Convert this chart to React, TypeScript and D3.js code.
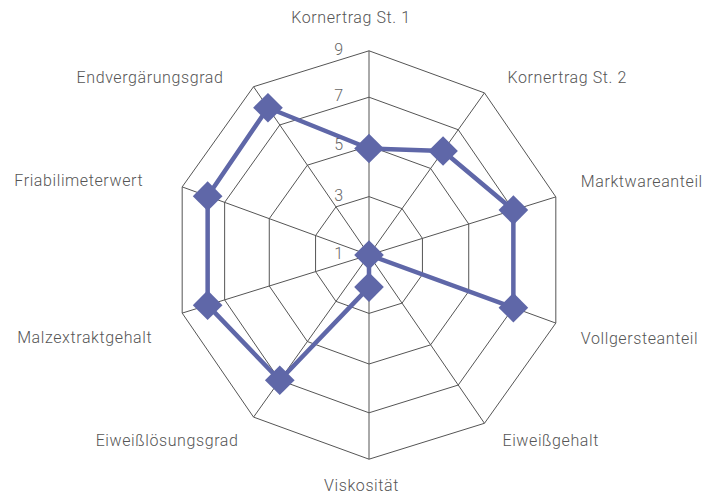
import React from 'react'
import { line, curveLinearClosed, scaleLinear, symbol, symbolSquare } from 'd3'

// axes clockwise from the top
const axes = [
  'Kornertrag St. 1',
  'Kornertrag St. 2',
  'Marktwareanteil',
  'Vollgersteanteil',
  'Eiweißgehalt',
  'Viskosität',
  'Eiweißlösungsgrad',
  'Malzextraktgehalt',
  'Friabilimeterwert',
  'Endvergärungsgrad',
]
const values = [4.9, 5.9, 7.0, 7.0, 1.0, 2.1, 7.0, 7.8, 7.8, 7.9]
const ticks = [1, 3, 5, 7, 9]

// label placement relative to the outer vertex of each axis: [anchor, dx, dy]
const labelPlace: [string, number, number][] = [
  ['middle', -18, -27.5],
  ['start', 23, -10],
  ['start', 25, -9.5],
  ['start', 25, 21],
  ['start', 18, 22.6],
  ['middle', -7.5, 31.7],
  ['end', -15, 28.8],
  ['end', -30, 30],
  ['end', -39, -1],
  ['end', -30, -3.6],
]

const W = 713, H = 497
const cx = 369, cy = 255
const sx = 0.962      // the plot is a little narrower than tall
const shear = 0.0268  // and slightly skewed

const App = () => {
  const n = axes.length
  const rScale = scaleLinear().domain(ticks).range([0, 58.4, 109, 157.8, 204.2])
  const maxR = rScale(ticks[ticks.length - 1])

  const project = (i: number, r: number): [number, number] => {
    const a = (i * 2 * Math.PI) / n
    const x = cx + sx * r * Math.sin(a)
    const y = cy - r * Math.cos(a) + shear * (x - cx)
    return [x, y]
  }

  const ring = line<number>()
    .x(d => d[0])
    .y(d => d[1])
    .curve(curveLinearClosed)

  const gridRings = ticks.slice(1).map(t => ring(axes.map((_, i) => project(i, rScale(t))) as any))
  const dataPts = values.map((v, i) => project(i, rScale(v)))
  const dataPath = ring(dataPts as any)
  const diamond = symbol(symbolSquare, 440)()

  const font = 'Roboto, "Helvetica Neue", Arial, sans-serif'

  return (
    <svg width={W} height={H} style={{ position: 'absolute', left: 0, top: 0 }}>
      <rect width={W} height={H} fill='#fff' />
      <g fill='none' stroke='#555' strokeWidth={1}>
        {gridRings.map((d, i) => <path key={i} d={d || ''} />)}
        {axes.map((_, i) => {
          const [x, y] = project(i, maxR)
          return <line key={i} x1={cx} y1={cy} x2={x} y2={y} />
        })}
      </g>
      <g fontFamily={font} fontWeight={300} fontSize={16} fill='#666' textAnchor='end'>
        {ticks.map(t => {
          const [x, y] = project(0, rScale(t))
          return <text key={t} x={x - 26} y={y + 4}>{t}</text>
        })}
      </g>
      <path d={dataPath || ''} fill='none' stroke='#5f67a8' strokeWidth={4.5} strokeLinejoin='round' />
      {dataPts.map(([x, y], i) => (
        <path key={i} d={diamond || ''} transform={`translate(${x},${y}) rotate(45)`} fill='#5f67a8' />
      ))}
      <g fontFamily={font} fontWeight={300} fontSize={16} fill='#555' letterSpacing={0.6}>
        {axes.map((name, i) => {
          const [x, y] = project(i, maxR)
          const [anchor, dx, dy] = labelPlace[i]
          return <text key={name} x={x + dx} y={y + dy} textAnchor={anchor}>{name}</text>
        })}
      </g>
    </svg>
  )
}

export default App
